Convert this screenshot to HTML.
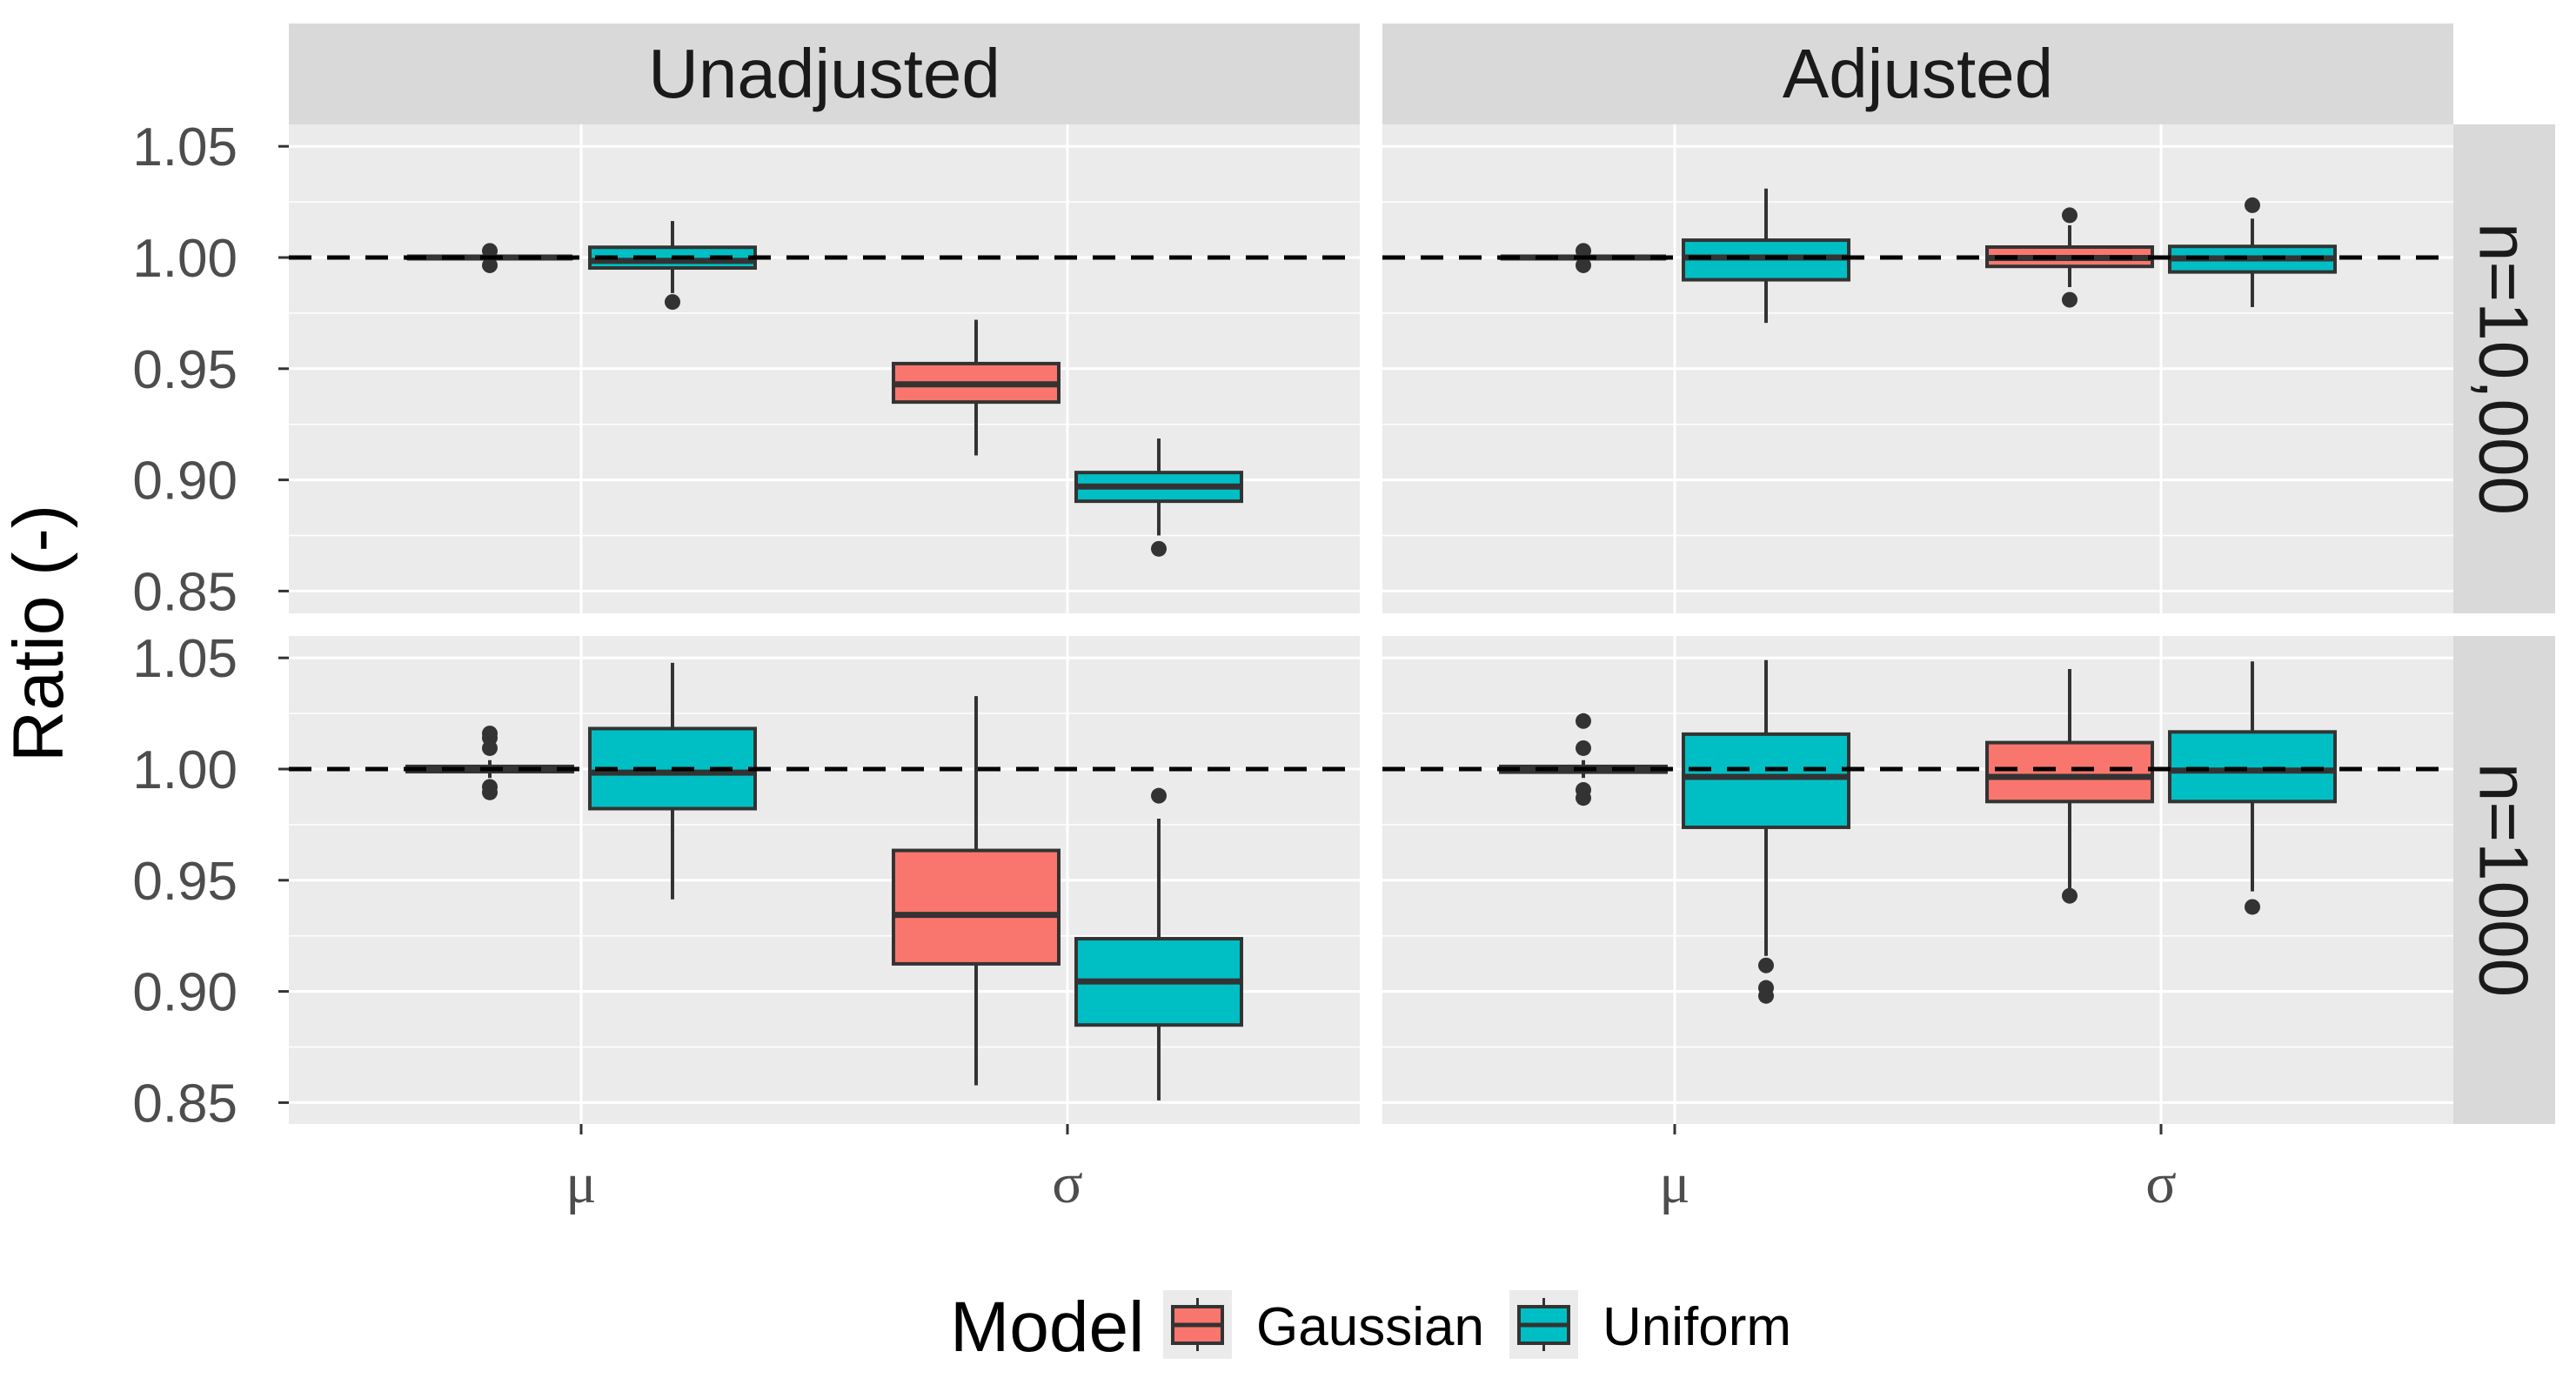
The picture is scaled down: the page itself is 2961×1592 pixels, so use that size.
<!DOCTYPE html>
<html><head><meta charset="utf-8"><style>
body{margin:0;background:#fff}
svg{display:block}
text{font-family:"Liberation Sans",sans-serif}
text.serif{font-family:"Liberation Serif",serif}
</style></head><body>
<svg id="chart" width="2961" height="1592" viewBox="0 0 2961 1592" xmlns="http://www.w3.org/2000/svg"></svg>
<script>
// ---- data ----
const columns = ["Unadjusted", "Adjusted"];
const rows = ["n=10,000", "n=1000"];
const categories = ["μ", "σ"];
const models = ["Gaussian", "Uniform"];
const yTicks = [0.85, 0.90, 0.95, 1.00, 1.05];
const yTickLabels = ["0.85", "0.90", "0.95", "1.00", "1.05"];
// each stat: [lowerWhisker, q1, median, q3, upperWhisker]
const statsTopUnadj = [
  [[0.9998, 0.9999, 1.0000, 1.0001, 1.0002], [0.984, 0.9953, 0.9985, 1.0046, 1.0164]],
  [[0.911, 0.935, 0.943, 0.9523, 0.972], [0.875, 0.8904, 0.897, 0.9033, 0.9186]]
];
const outTopUnadj = [[[1.003, 0.9965], [0.980]], [[], [0.869]]];
const statsTopAdj = [
  [[0.9998, 0.9999, 1.0000, 1.0001, 1.0002], [0.9706, 0.990, 1.000, 1.0078, 1.031]],
  [[0.9867, 0.996, 0.9998, 1.0047, 1.0145], [0.9777, 0.9935, 0.9996, 1.005, 1.0175]]
];
const outTopAdj = [[[1.003, 0.9965], []], [[1.019, 0.981], [1.0235]]];
const statsBotUnadj = [
  [[0.996, 0.9988, 1.000, 1.0012, 1.004], [0.9414, 0.9822, 0.9984, 1.0182, 1.0478]],
  [[0.8578, 0.9124, 0.9344, 0.9634, 1.0328], [0.851, 0.8849, 0.9045, 0.9237, 0.9777]]
];
const outBotUnadj = [[[1.016, 1.014, 1.0094, 0.992, 0.9895], []], [[], [0.988]]];
const statsBotAdj = [
  [[0.996, 0.9986, 0.9995, 1.0012, 1.004], [0.916, 0.9738, 0.9965, 1.0157, 1.049]],
  [[0.946, 0.9854, 0.9965, 1.0119, 1.045], [0.945, 0.9854, 0.9993, 1.0167, 1.0484]]
];
const outBotAdj = [[[1.0216, 1.0094, 0.9906, 0.987], [0.9117, 0.9016, 0.898]], [[0.943], [0.938]]];
const refValue = 1.0;

const allStats = [[statsTopUnadj, statsTopAdj], [statsBotUnadj, statsBotAdj]];
const allOut = [[outTopUnadj, outTopAdj], [outBotUnadj, outBotAdj]];

// ---- layout ----
const NS = "http://www.w3.org/2000/svg";
const svg = document.getElementById("chart");
function el(tag, attrs, parent) {
  const e = document.createElementNS(NS, tag);
  for (const k in attrs) e.setAttribute(k, attrs[k]);
  (parent || svg).appendChild(e);
  return e;
}
const panelX = [332, 1589], panelW = 1231;
const panelY = [143, 731], panelH = [562, 561];
const fills = ["#F8766D", "#00BFC4"];
const y0 = [296, 884], pxPerUnit = 2556;
function yScale(r, v) { return y0[r] - (v - 1) * pxPerUnit; }
function xScale(c, i) { return panelX[c] + 336 + i * 559; }
const dodge = 105, boxW = 190;

columns.forEach((name, c) => {
  const g = el("g", {});
  
  
  el("rect", {x: panelX[c], y: 27, width: panelW, height: 116, fill: "#d9d9d9"}, g);
  const t = el("text", {x: panelX[c] + panelW / 2, y: 112, "font-size": 80, fill: "#1a1a1a", "text-anchor": "middle"}, g);
  t.textContent = name;
});
rows.forEach((name, r) => {
  const g = el("g", {});
  
  
  el("rect", {x: 2820, y: panelY[r], width: 117, height: panelH[r], fill: "#d9d9d9"}, g);
  const cx = 2878, cy = panelY[r] + panelH[r] / 2;
  const t = el("text", {x: cx, y: cy, "font-size": 80, fill: "#1a1a1a", "text-anchor": "middle", "dominant-baseline": "central", transform: `rotate(90 ${cx} ${cy})`}, g);
  t.textContent = name;
});

for (let r = 0; r < 2; r++) {
  for (let c = 0; c < 2; c++) {
    const g = el("g", {});
    
    
    el("rect", {x: panelX[c], y: panelY[r], width: panelW, height: panelH[r], fill: "#ebebeb"}, g);
    for (let i = 0; i < yTicks.length - 1; i++) {
      const v = (yTicks[i] + yTicks[i + 1]) / 2;
      el("line", {x1: panelX[c], x2: panelX[c] + panelW, y1: yScale(r, v), y2: yScale(r, v), stroke: "#fff", "stroke-width": 1.5}, g);
    }
    yTicks.forEach(v => {
      el("line", {x1: panelX[c], x2: panelX[c] + panelW, y1: yScale(r, v), y2: yScale(r, v), stroke: "#fff", "stroke-width": 3}, g);
    });
    categories.forEach((cat, i) => {
      el("line", {x1: xScale(c, i), x2: xScale(c, i), y1: panelY[r], y2: panelY[r] + panelH[r], stroke: "#fff", "stroke-width": 3}, g);
    });
    categories.forEach((cat, i) => {
      models.forEach((m, j) => {
        const s = allStats[r][c][i][j];
        const cx = xScale(c, i) + (j === 0 ? -dodge : dodge);
        const bg = el("g", {}, g);
        
        
        el("line", {x1: cx, x2: cx, y1: yScale(r, s[0]), y2: yScale(r, s[1]), stroke: "#333", "stroke-width": 4}, bg);
        el("line", {x1: cx, x2: cx, y1: yScale(r, s[3]), y2: yScale(r, s[4]), stroke: "#333", "stroke-width": 4}, bg);
        const yt = yScale(r, s[3]), yb = yScale(r, s[1]);
        el("rect", {x: cx - boxW / 2, y: yt, width: boxW, height: Math.max(yb - yt, 1), fill: fills[j], stroke: "#333", "stroke-width": 4}, bg);
        el("line", {x1: cx - boxW / 2, x2: cx + boxW / 2, y1: yScale(r, s[2]), y2: yScale(r, s[2]), stroke: "#333", "stroke-width": 7}, bg);
        allOut[r][c][i][j].forEach(v => {
          el("circle", {cx: cx, cy: yScale(r, v), r: 9, fill: "#333"}, bg);
        });
      });
    });
    const ref = el("line", {x1: panelX[c], x2: panelX[c] + panelW, y1: yScale(r, refValue), y2: yScale(r, refValue), stroke: "#000", "stroke-width": 5, "stroke-dasharray": "26 18"}, g);
    
    
  }
  const ax = el("g", {});
  
  
  yTicks.forEach((v, k) => {
    el("line", {x1: 320, x2: 332, y1: yScale(r, v), y2: yScale(r, v), stroke: "#333", "stroke-width": 3}, ax);
    const t = el("text", {x: 273, y: yScale(r, v) + 22, "font-size": 62, fill: "#4d4d4d", "text-anchor": "end"}, ax);
    t.textContent = yTickLabels[k];
  });
}
for (let c = 0; c < 2; c++) {
  const ax = el("g", {});
  
  
  categories.forEach((cat, i) => {
    el("line", {x1: xScale(c, i), x2: xScale(c, i), y1: 1292, y2: 1304, stroke: "#333", "stroke-width": 3}, ax);
    const t = el("text", {x: xScale(c, i), y: 1382, "font-size": 66, fill: "#4d4d4d", "text-anchor": "middle", "class": "serif"}, ax);
    t.textContent = cat;
  });
}
const yt = el("text", {x: 72, y: 728, "font-size": 82, fill: "#000", "text-anchor": "middle", transform: "rotate(-90 72 728)"});


yt.textContent = "Ratio (-)";
const lg = el("g", {});


const lt = el("text", {x: 1092, y: 1553, "font-size": 82, fill: "#000"}, lg);
lt.textContent = "Model";
const keyX = [1337, 1735], labX = [1444, 1842];
models.forEach((m, j) => {
  const kg = el("g", {}, lg);
  
  
  el("rect", {x: keyX[j], y: 1483, width: 79, height: 79, fill: "#ebebeb"}, kg);
  const cx = keyX[j] + 39.5;
  el("line", {x1: cx, x2: cx, y1: 1492, y2: 1553, stroke: "#333", "stroke-width": 3}, kg);
  el("rect", {x: keyX[j] + 11, y: 1502, width: 57, height: 42, fill: fills[j], stroke: "#333", "stroke-width": 4}, kg);
  el("line", {x1: keyX[j] + 11, x2: keyX[j] + 68, y1: 1523, y2: 1523, stroke: "#333", "stroke-width": 5}, kg);
  const t = el("text", {x: labX[j], y: 1546, "font-size": 62, fill: "#000"}, kg);
  t.textContent = m;
});
</script>
</body></html>
